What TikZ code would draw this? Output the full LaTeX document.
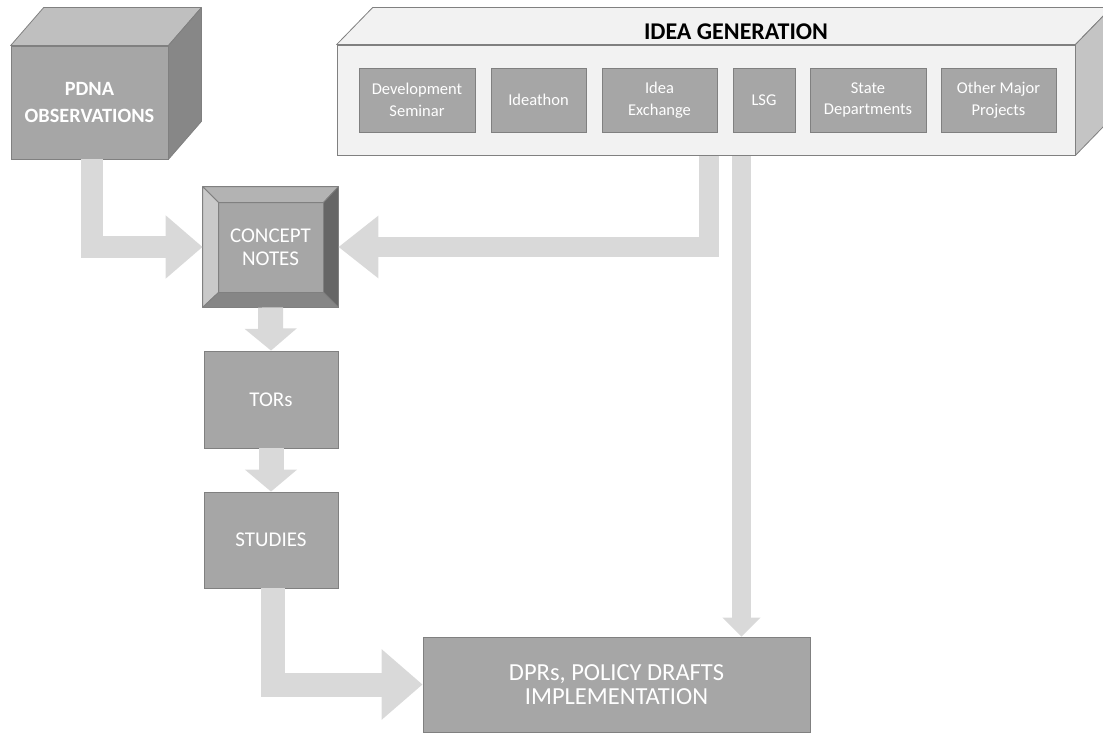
\documentclass[tikz,border=0pt]{standalone}
\usepackage{fontspec}
\setmainfont{Carlito}
\usetikzlibrary{arrows.meta,calc}

\definecolor{flow}{HTML}{D9D9D9}
\definecolor{boxfill}{HTML}{A6A6A6}
\definecolor{boxline}{HTML}{808080}
\definecolor{panelfill}{HTML}{F2F2F2}
\definecolor{panelside}{HTML}{C4C4C4}
\definecolor{cubetop}{HTML}{BFBFBF}
\definecolor{cubeside}{HTML}{878787}
\definecolor{bevlight}{HTML}{C9C9C9}
\definecolor{bevtop}{HTML}{B3B3B3}
\definecolor{bevdark}{HTML}{666666}
\definecolor{bevbottom}{HTML}{868686}

\tikzset{
  greybox/.style={rectangle, fill=boxfill, draw=boxline, line width=0.8pt,
    text=white, align=center, inner sep=0pt},
  mainlabel/.style={font=\fontsize{21}{23}\selectfont},
  smalllabel/.style={font=\fontsize{16.5}{21.5}\selectfont},
  facet/.style={draw=boxline, line width=0.8pt, line join=round},
  flowpath/.style={draw=flow, line join=miter, line cap=butt},
}

\begin{document}
\begin{tikzpicture}[x=1pt,y=-1pt]
\useasboundingbox (0,0) rectangle (1103,733);

% ---------- PDNA cube ----------
\node[greybox, minimum width=157pt, minimum height=113pt,
      font=\fontsize{20.3}{27}\selectfont\bfseries] (pdna) at (89.5,102.5)
      {PDNA\\OBSERVATIONS};
\fill[cubetop] (pdna.north west) -- ++(33,-38) -- ($(pdna.north east)+(33,-38)$) -- (pdna.north east) -- cycle;
\draw[facet] (pdna.north west) -- ++(33,-38) -- ($(pdna.north east)+(33,-38)$) -- (pdna.north east) -- cycle;
\draw[facet, fill=cubeside] (pdna.north east) -- ++(33,-38) -- ($(pdna.south east)+(33,-38)$) -- (pdna.south east) -- cycle;

% ---------- Idea generation panel ----------
\begin{scope}
\clip (0,0) rectangle (1103,733);
\node[rectangle, fill=panelfill, draw=boxline, line width=0.8pt,
      minimum width=738pt, minimum height=110pt, inner sep=0pt] (idea) at (706,100) {};
\draw[facet, fill=panelfill] (idea.north west) -- ++(36,-37) -- ($(idea.north east)+(36,-37)$) -- (idea.north east) -- cycle;
\draw[facet, fill=panelside] (idea.north east) -- ++(36,-37) -- ($(idea.south east)+(36,-37)$) -- (idea.south east) -- cycle;
\end{scope}
\node[font=\fontsize{24}{26}\selectfont\bfseries, text=black, inner sep=0pt] (ideatitle) at (736,32) {IDEA GENERATION};

\node[greybox, smalllabel, minimum width=116pt, minimum height=64pt] (dev)    at (417,100)   {Development\\Seminar};
\node[greybox, smalllabel, minimum width=95pt,  minimum height=64pt] (ideathon) at (538.5,100) {Ideathon};
\node[greybox, smalllabel, minimum width=115pt, minimum height=64pt] (exch)   at (659.5,100) {Idea\\Exchange};
\node[greybox, smalllabel, minimum width=62pt,  minimum height=64pt] (lsg)    at (764,100)   {LSG};
\node[greybox, smalllabel, minimum width=116pt, minimum height=64pt] (state)  at (868,100)   {State\\Departments};
\node[greybox, smalllabel, minimum width=115pt, minimum height=64pt] (other)  at (998.5,100) {Other Major\\Projects};

% ---------- Concept notes (bevelled button) ----------
\node[greybox, mainlabel, minimum width=135pt, minimum height=120pt] (concept) at (270.5,247) {CONCEPT\\NOTES};
\coordinate (cinNW) at ($(concept.north west)+(16,16)$);
\coordinate (cinNE) at ($(concept.north east)+(-15,16)$);
\coordinate (cinSE) at ($(concept.south east)+(-15,-15)$);
\coordinate (cinSW) at ($(concept.south west)+(16,-15)$);
\draw[facet, fill=bevtop]    (concept.north west) -- (concept.north east) -- (cinNE) -- (cinNW) -- cycle;
\draw[facet, fill=bevlight]  (concept.north west) -- (cinNW) -- (cinSW) -- (concept.south west) -- cycle;
\draw[facet, fill=bevdark]   (concept.north east) -- (concept.south east) -- (cinSE) -- (cinNE) -- cycle;
\draw[facet, fill=bevbottom] (concept.south west) -- (cinSW) -- (cinSE) -- (concept.south east) -- cycle;

% ---------- Process boxes ----------
\node[greybox, mainlabel, minimum width=134pt, minimum height=97pt] (tors)    at (271,399.5) {TORs};
\node[greybox, mainlabel, minimum width=134pt, minimum height=96pt] (studies) at (271,540)   {STUDIES};
\node[greybox, font=\fontsize{24.5}{23.5}\selectfont, minimum width=387pt, minimum height=95pt] (dpr) at (616.5,684.5)
      {DPRs, POLICY DRAFTS\\IMPLEMENTATION};

% ---------- Flow arrows ----------
\coordinate (ideaA) at (708.5,156);
\coordinate (ideaB) at (741.5,156);

\draw[flowpath, line width=22pt, -{Triangle[length=37pt,width=61pt]}]
  ([xshift=2pt]pdna.south) |- (concept.west);
\draw[flowpath, line width=20pt, -{Triangle[length=40pt,width=60pt]}]
  (ideaA) |- (concept.east);
\draw[flowpath, line width=19pt, -{Triangle[length=19pt,width=37pt]}]
  (ideaB) -- (ideaB |- dpr.north);
\draw[flowpath, line width=25pt, -{Triangle[length=22pt,width=51pt]}]
  (concept.south) -- (tors.north);
\draw[flowpath, line width=25pt, -{Triangle[length=22pt,width=51pt]}]
  (tors.south) -- (studies.north);
\draw[flowpath, line width=24pt, -{Triangle[length=41pt,width=68pt]}]
  ([xshift=2pt]studies.south) |- (dpr.west);
\end{tikzpicture}
\end{document}
